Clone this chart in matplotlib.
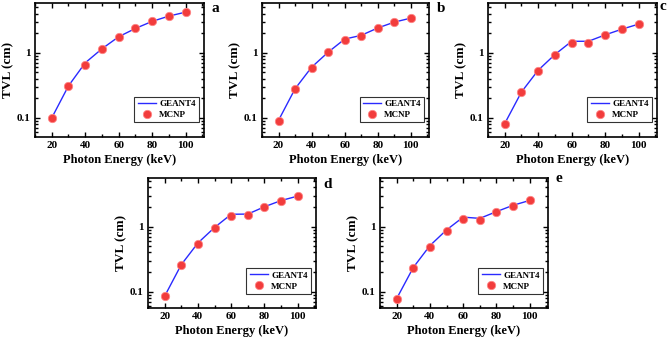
import numpy as np
import matplotlib
matplotlib.use("Agg")
import matplotlib.pyplot as plt
from matplotlib.ticker import FixedLocator, LogLocator, NullFormatter, FuncFormatter

plt.rcParams['font.family'] = ['Liberation Serif', 'DejaVu Serif']
plt.rcParams['font.weight'] = 'bold'

# Photon energies (keV)
energy = [20, 30, 40, 50, 60, 70, 80, 90, 100]

# TVL (cm) per panel
geant4_a = [0.10, 0.31, 0.70, 1.15, 1.76, 2.36, 3.03, 3.65, 4.2]
mcnp_a = [0.10, 0.31, 0.66, 1.15, 1.74, 2.36, 3.03, 3.65, 4.2]
geant4_b = [0.092, 0.28, 0.60, 1.02, 1.62, 1.85, 2.40, 2.95, 3.4]
mcnp_b = [0.091, 0.275, 0.58, 1.01, 1.55, 1.82, 2.36, 2.92, 3.4]
geant4_c = [0.082, 0.25, 0.54, 0.94, 1.50, 1.50, 1.88, 2.30, 2.75]
mcnp_c = [0.082, 0.247, 0.525, 0.91, 1.41, 1.39, 1.85, 2.28, 2.75]
geant4_d = [0.085, 0.26, 0.56, 0.97, 1.55, 1.56, 2.02, 2.52, 2.95]
mcnp_d = [0.085, 0.256, 0.55, 0.955, 1.44, 1.53, 2.0, 2.5, 2.95]
geant4_e = [0.078, 0.235, 0.51, 0.89, 1.40, 1.34, 1.70, 2.13, 2.53]
mcnp_e = [0.078, 0.233, 0.494, 0.87, 1.33, 1.27, 1.66, 2.1, 2.53]

# letter, data, axes box (left, top, right, bottom) in px, letter position in px
panels = [
    ('a', geant4_a, mcnp_a, (35, 3, 204, 137), (212, 8)),
    ('b', geant4_b, mcnp_b, (262, 3, 429, 137), (437, 8)),
    ('c', geant4_c, mcnp_c, (488, 3, 657, 137), (659, 6)),
    ('d', geant4_d, mcnp_d, (148, 178, 316, 308), (323, 184)),
    ('e', geant4_e, mcnp_e, (380, 178, 548, 308), (556, 179)),
]

W, H = 669, 343
fig = plt.figure(figsize=(W / 100, H / 100), dpi=100)

for letter, g4, mc, (x0, y0, x1, y1), (lx, ly) in panels:
    ax = fig.add_axes([x0 / W, (H - y1) / H, (x1 - x0) / W, (y1 - y0) / H])
    ax.plot(energy, g4, color='#2a2aff', lw=1.0, label='GEANT4', zorder=2)
    ax.plot(energy, mc, ls='none', marker='o', ms=6, mfc='#f23c3c',
            mec='#ff8585', mew=0.6, label='MCNP', zorder=3)
    ax.set_yscale('log')
    if y0 < 100:
        ax.set_ylim(0.051, 5.8)
    else:
        ax.set_ylim(0.056, 5.6)
    ax.set_xlim(10, 111)
    ax.xaxis.set_major_locator(FixedLocator([20, 40, 60, 80, 100]))
    ax.xaxis.set_minor_locator(FixedLocator([10, 30, 50, 70, 90, 110]))
    ax.yaxis.set_major_locator(FixedLocator([0.1, 1]))
    ax.yaxis.set_major_formatter(FuncFormatter(lambda v, p: '%g' % v))
    ax.yaxis.set_minor_locator(LogLocator(base=10, subs=np.arange(2, 10)))
    ax.yaxis.set_minor_formatter(NullFormatter())
    ax.tick_params(which='both', direction='in', top=True, right=True,
                   labelsize=8, width=1.0, pad=3)
    ax.tick_params(which='major', length=3.5)
    ax.tick_params(which='minor', length=2)
    for sp in ax.spines.values():
        sp.set_linewidth(1.2)
    ax.set_xlabel('Photon Energy (keV)', fontsize=9, fontweight='bold', labelpad=3)
    ax.set_ylabel('TVL (cm)', fontsize=9.5, fontweight='bold', labelpad=2)
    leg = ax.legend(loc='lower right', bbox_to_anchor=(0.97, 0.11), fontsize=6.5,
                    frameon=True, fancybox=False, edgecolor='black',
                    handlelength=2.0, numpoints=1, borderpad=0.35,
                    labelspacing=0.3, handletextpad=0.4, borderaxespad=0)
    leg.get_frame().set_linewidth(0.8)
    fig.text(lx / W, 1 - ly / H, letter, fontsize=11,
             fontweight='bold', va='center', ha='left')

fig.savefig('out.png', dpi=100)
